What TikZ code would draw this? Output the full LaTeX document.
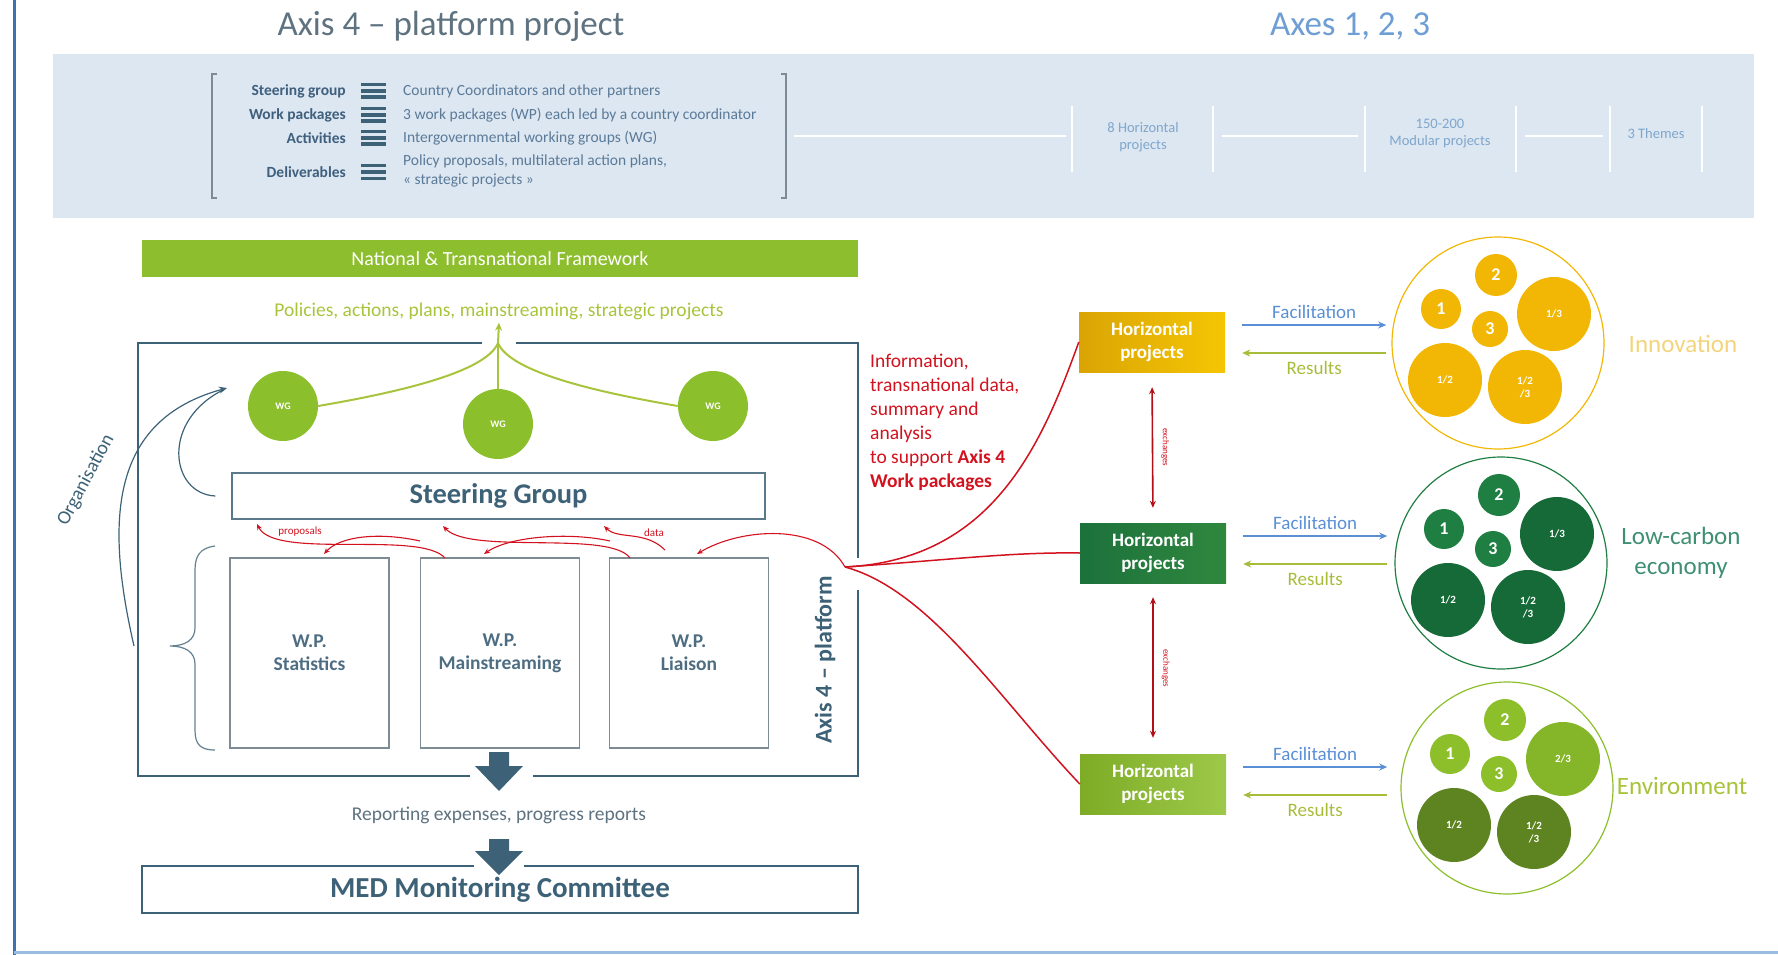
\documentclass[tikz,border=0pt]{standalone}
\usepackage{fontspec}
\setmainfont{Carlito}
\usetikzlibrary{arrows.meta,calc}
\definecolor{axisblue}{HTML}{3D6277}
\definecolor{titlegray}{HTML}{5E7280}
\definecolor{axesblue}{HTML}{6E9ED3}
\definecolor{band}{HTML}{DCE7F2}
\definecolor{bandlab}{HTML}{3F5F7D}
\definecolor{bandtxt}{HTML}{5B7A98}
\definecolor{bandlight}{HTML}{7FA6CC}
\definecolor{greenbar}{HTML}{8DBE2E}
\definecolor{policy}{HTML}{A8C43C}
\definecolor{wggreen}{HTML}{8CBF2C}
\definecolor{redc}{HTML}{D2121E}
\definecolor{gold}{HTML}{F2B705}
\definecolor{goldtxt}{HTML}{F3D47C}
\definecolor{dgreen}{HTML}{1F7E42}
\definecolor{dgreenb}{HTML}{166A37}
\definecolor{lgreen}{HTML}{8CBF2A}
\definecolor{olive}{HTML}{5D8420}
\definecolor{lowc}{HTML}{3F8F72}
\definecolor{envtxt}{HTML}{A6C33A}
\definecolor{facilc}{HTML}{5A8FD5}
\definecolor{resc}{HTML}{A9BC3A}
\definecolor{wpgray}{HTML}{7D8B94}
\definecolor{wptxt}{HTML}{4E6D82}
\definecolor{frameblue}{HTML}{3E72AE}
\newcommand{\fsz}[2]{\fontsize{#1}{#2}\selectfont}
\newcommand{\themeset}[6]{%
  \node[smc, fill=#2] (#6two) at ($(#1)+(-2,-68)$) {2};
  \node[smc, fill=#2, minimum size=40pt] (#6one) at ($(#1)+(-57,-34)$) {1};
  \node[smc, fill=#2, minimum size=36pt] (#6three) at ($(#1)+(-8,-14)$) {3};
  \node[bigc, fill=#3] (#6tr) at ($(#1)+(56,-29)$) {#5};
  \node[bigc, fill=#4] (#6half) at ($(#1)+(-53,37)$) {1/2};
  \node[bigc, fill=#4] (#6all) at ($(#1)+(27,44)$) {1/2\\/3};
}
\begin{document}
\begin{tikzpicture}[x=1pt,y=-1pt,
  every node/.style={inner sep=0pt},
  bandlabel/.style={text=bandlab, font=\fsz{15.5}{18}\bfseries, anchor=east},
  bandtext/.style={text=bandtxt, font=\fsz{15.5}{19}, anchor=west, align=left},
  bandsmall/.style={text=bandlight, font=\fsz{14.5}{17}, align=center},
  wgc/.style={circle, fill=wggreen, minimum size=70pt, text=white, font=\fsz{10}{11}\bfseries},
  greenl/.style={draw=policy, line width=2pt},
  wpbox/.style={draw=wpgray, line width=1.3pt, minimum width=159pt, minimum height=190pt, text=wptxt, font=\fsz{19.5}{23}\bfseries, align=center},
  frame/.style={draw=axisblue, line width=2pt},
  redl/.style={draw=redc, line width=1.5pt},
  redarr/.style={draw=redc, line width=1.1pt, -{Stealth[length=6pt,width=5pt]}},
  orgl/.style={draw=axisblue, line width=1.2pt},
  hpbox/.style={minimum width=146pt, minimum height=60pt, text=white, font=\fsz{19}{23}\bfseries, align=center},
  theme/.style={circle, minimum size=212pt, line width=1.2pt},
  smc/.style={circle, minimum size=42pt, text=white, font=\fsz{18}{19}\bfseries},
  bigc/.style={circle, minimum size=74pt, text=white, font=\fsz{11}{13}\bfseries, align=center},
  facil/.style={draw=facilc, line width=2pt, -{Stealth[length=8pt,width=7pt]}},
  resarr/.style={draw=resc, line width=2pt, -{Stealth[length=8pt,width=7pt]}},
  exch/.style={draw=redc!85!black, line width=1.6pt, {Stealth[length=7pt,width=6pt]}-{Stealth[length=7pt,width=6pt]}},
  blockarr/.style={fill=axisblue}
]
\useasboundingbox (0,0) rectangle (1778,955);
% outer frame lines
\draw[frameblue, line width=3pt] (14,0) -- (14,955);
\draw[axesblue!70, line width=3pt] (14,952) -- (1778,952);

% titles
\node[text=titlegray, font=\fsz{35}{38}] (t4) at (451,26) {Axis 4 -- platform project};
\node[text=axesblue, font=\fsz{35}{38}] (t123) at (1350,26) {Axes 1, 2, 3};

% band
\fill[band] (53,54) rectangle (1754,218);
\draw[wpgray, line width=1.2pt] (217,74) -- (212,74) -- (212,198) -- (217,198);
\draw[wpgray, line width=1.2pt] (781,74) -- (786,74) -- (786,198) -- (781,198);
\node[bandlabel] (l1) at (346,91) {Steering group};
\node[bandlabel] (l2) at (346,115) {Work packages};
\node[bandlabel] (l3) at (346,138) {Activities};
\node[bandlabel] (l4) at (346,172) {Deliverables};
\foreach \yy in {91,115,138,172} {
  \fill[axisblue] (361,\yy-8) rectangle (386,\yy-4.5);
  \fill[axisblue] (361,\yy-1.7) rectangle (386,\yy+1.7);
  \fill[axisblue] (361,\yy+4.5) rectangle (386,\yy+8);
}
\node[bandtext] (d1) at (403,91) {Country Coordinators and other partners};
\node[bandtext] (d2) at (403,115) {3 work packages (WP) each led by a country coordinator};
\node[bandtext] (d3) at (403,138) {Intergovernmental working groups (WG)};
\node[bandtext] (d4) at (403,171) {Policy proposals, multilateral action plans,\\« strategic projects »};
\begin{scope}[white, line width=1.6pt]
  \draw (794,136) -- (1066,136);
  \draw (1222,136) -- (1358,136);
  \draw (1525,136) -- (1603,136);
  \foreach \xx in {1072,1213,1365,1516,1610,1702} { \draw (\xx,106) -- (\xx,172); }
\end{scope}
\node[bandsmall] (b1) at (1143,137) {8 Horizontal\\projects};
\node[bandsmall] (b2) at (1440,134) {150-200\\Modular projects};
\node[bandsmall] (b3) at (1656,134) {3 Themes};

% framework bar
\node[fill=greenbar, minimum width=716pt, minimum height=37pt, text=white, font=\fsz{20}{22}] (fw) at (500,258.5) {National \& Transnational Framework};
\node[text=policy, font=\fsz{19.5}{22}] (pol) at (499,311) {Policies, actions, plans, mainstreaming, strategic projects};

% main frame with gaps
\draw[frame] (516,343) -- (858,343) -- (858,558);
\draw[frame] (858,590) -- (858,776) -- (533,776);
\draw[frame] (470,776) -- (138,776) -- (138,343) -- (482,343);
\coordinate (j) at (498,343);
\draw[greenl, -{Stealth[length=8pt,width=7pt]}] (j) -- ([yshift=-3pt]pol.south);

% WG circles
\node[wgc] (wg1) at (283,406) {WG};
\node[wgc] (wg2) at (498,424) {WG};
\node[wgc] (wg3) at (713,406) {WG};
\draw[greenl] (j) -- (wg2.north);
\draw[greenl] (j) .. controls (486,372) and (400,392) .. (wg1.east);
\draw[greenl] (j) .. controls (510,372) and (596,392) .. (wg3.west);

% steering group
\node[draw=axisblue!85, line width=1.3pt, minimum width=533pt, minimum height=46pt, text=axisblue, font=\fsz{28.5}{31}\bfseries] (sg) at (498.5,496) {Steering Group};

% WP boxes
\node[wpbox] (wps) at (309.5,653) {W.P.\\Statistics};
\node[wpbox] (wpm) at (500,653) {W.P.\\Mainstreaming};
\node[wpbox] (wpl) at (689,653) {W.P.\\Liaison};

% brace
\draw[axisblue!80, line width=1.2pt] (215,546) .. controls (200,548) and (195,556) .. (195,570) -- (195,628)
  .. controls (195,640) and (185,646) .. (170,646) .. controls (185,646) and (195,652) .. (195,664)
  -- (195,730) .. controls (195,744) and (200,750) .. (215,750);

% organisation
\draw[orgl, -{Stealth[length=8pt,width=7pt]}] (134,646) .. controls (105,520) and (110,420) .. (227,388);
\draw[orgl] ([xshift=-16pt]sg.west) .. controls (170,494) and (160,420) .. (225,389);
\node[text=axisblue, font=\fsz{19.5}{21}, rotate=62] (org) at (86,480) {Organisation};

% axis 4 platform vertical
\node[text=axisblue, font=\fsz{24}{27}\bfseries, rotate=90] (ax4) at (825,660) {Axis 4 -- platform};

% red links between WPs and SG
\coordinate (o) at (845,567);
\draw[redarr] (445,558) .. controls (420,530) and (275,560) .. (257,524);
\draw[redarr] (420,541) .. controls (380,532) and (340,536) .. (324,554);
\draw[redarr] (630,558) .. controls (610,530) and (470,555) .. (443,526);
\draw[redarr] (610,541) .. controls (570,532) and (510,536) .. (484,554);
\draw[redarr] (665,550) .. controls (645,530) and (618,540) .. (604,526);
\draw[redarr] (o) .. controls (820,522) and (740,528) .. (697,554);
\node[text=redc, font=\fsz{11}{12}] (prop) at (300,532) {proposals};
\node[text=redc, font=\fsz{11}{12}] (dat) at (654,533) {data};

% red info text
\node[anchor=north west, align=left, text=redc, font=\fsz{19.5}{24}] (info) at (870,354) {Information,\\transnational data,\\summary and\\analysis\\to support \textbf{Axis 4}\\\textbf{Work packages}};

% horizontal projects
\node[hpbox, left color=gold!90!black, right color=gold!80!yellow] (hp1) at (1152,342) {Horizontal\\projects};
\node[hpbox, left color=dgreen!90!black, right color=dgreen!85!lgreen] (hp2) at (1153,553) {Horizontal\\projects};
\node[hpbox, left color=lgreen!90!black, right color=lgreen!85!white] (hp3) at (1153,784) {Horizontal\\projects};

\draw[redl] (o) .. controls (990,560) and (1040,450) .. (hp1.west);
\draw[redl] (o) .. controls (950,560) and (1010,552) .. (hp2.west);
\draw[redl] (o) .. controls (930,590) and (1000,700) .. (hp3.west);

% exchanges
\draw[exch, shorten <=15pt, shorten >=15pt] (hp1.south) -- (hp2.north) node[midway, right=8pt, rotate=-90, anchor=south, font=\fsz{9}{10}, text=redc] (ex1) {exchanges};
\draw[exch, shorten <=14pt, shorten >=16pt] (hp2.south) -- (hp3.north) node[midway, right=8pt, rotate=-90, anchor=south, font=\fsz{9}{10}, text=redc] (ex2) {exchanges};

% theme circles
\node[theme, draw=gold] (th1) at (1498,343) {};
\node[theme, draw=dgreen] (th2) at (1501,563) {};
\node[theme, draw=lgreen] (th3) at (1507,788) {};
\themeset{th1}{gold}{gold}{gold}{1/3}{ta}
\themeset{th2}{dgreen}{dgreenb}{dgreenb}{1/3}{tb}
\themeset{th3}{lgreen}{lgreen!95!black}{olive}{2/3}{tc}

% facilitation / results
\foreach \h in {hp1,hp2,hp3} {
  \draw[facil] (\h.east) ++(17,-17) -- ++(144,0) node[midway, above=5pt, text=facilc, font=\fsz{19}{21}] {Facilitation};
  \draw[resarr] (\h.east) ++(161,11) -- ++(-144,0) node[midway, below=7pt, text=resc, font=\fsz{19}{21}] {Results};
}

% theme labels
\node[text=goldtxt, font=\fsz{25}{28}] (inn) at (1683,344) {Innovation};
\node[text=lowc, font=\fsz{25}{30}, align=center] (lowcarb) at (1681,553) {Low-carbon\\economy};
\node[text=envtxt, font=\fsz{25}{28}] (env) at (1682,786) {Environment};

% bottom block arrows
\fill[blockarr] (489,752) -- (509,752) -- (509,766) -- (523,766) -- (499,791) -- (475,766) -- (489,766) -- cycle;
\node[text=titlegray, font=\fsz{19.5}{22}] (rep) at (499,815) {Reporting expenses, progress reports};
\fill[blockarr] (489,839) -- (509,839) -- (509,851) -- (523,851) -- (499,875) -- (475,851) -- (489,851) -- cycle;

% MED box
\draw[frame, line width=1.6pt] (524,866) -- (858,866) -- (858,913) -- (142,913) -- (142,866) -- (474,866);
\node[text=axisblue, font=\fsz{29}{32}\bfseries] (med) at (500,890) {MED Monitoring Committee};
\end{tikzpicture}
\end{document}
